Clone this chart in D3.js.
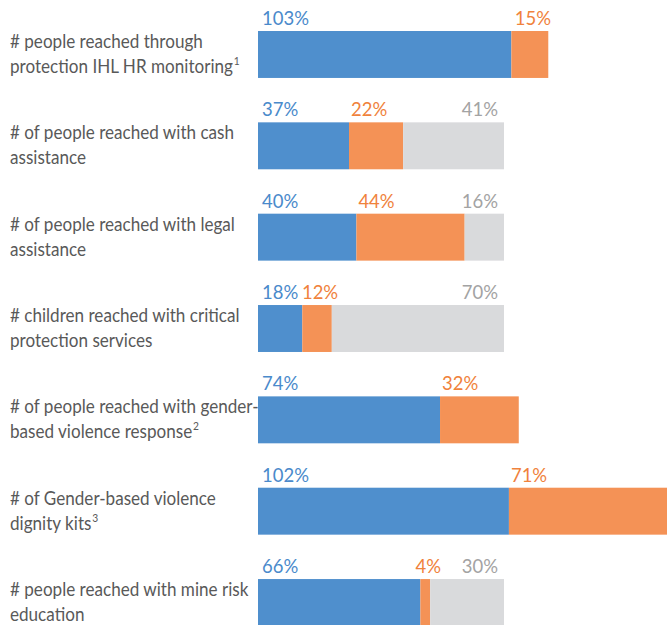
<!DOCTYPE html>
<html><head><meta charset="utf-8">
<script src="https://cdn.jsdelivr.net/npm/d3@7"></script>
<style>
html,body{margin:0;padding:0;background:#fff;}
svg{display:block;}
text{font-family:Lato,"Open Sans",sans-serif;}
</style></head>
<body>
<svg id="chart" width="667" height="625"></svg>
<script>
const categoryLines = [
  ["# people reached through", "protection IHL HR monitoring"],
  ["# of people reached with cash", "assistance"],
  ["# of people reached with legal", "assistance"],
  ["# children reached with critical", "protection services"],
  ["# of people reached with gender-", "based violence response"],
  ["# of Gender-based violence", "dignity kits"],
  ["# people reached with mine risk", "education"]
];
const footnotes = ["1", "", "", "", "2", "3", ""];
const blueValues = [103, 37, 40, 18, 74, 102, 66];
const orangeValues = [15, 22, 44, 12, 32, 71, 4];
const grayValues = [0, 41, 16, 70, 0, 0, 30];

const colors = {blue: "#4f8fcd", orange: "#f49256", gray: "#d9dadc"};
const labelColors = {blue: "#4a8acb", orange: "#f0823c", gray: "#a3a3a3"};

const svg = d3.select("#chart");
const ids = categoryLines.map((d, i) => "c" + i);
const x = d3.scaleLinear().domain([0, 100]).range([258, 504]);
const y = d3.scaleBand().domain(ids).range([31, 626]).paddingInner(0.486).paddingOuter(0);

// measure helper for condensed look
function measure(str, size) {
  const t = svg.append("text").attr("font-size", size).text(str);
  const w = t.node().getComputedTextLength();
  t.remove();
  return w;
}
const catSize = 20, valSize = 19;
const catScale = 193 / measure(categoryLines[0][0], catSize);
const valScale = 47 / measure("103%", valSize);

const rows = ids.map((id, i) => ({
  id, i,
  segs: [
    {key: "blue", v0: 0, v1: blueValues[i], val: blueValues[i]},
    {key: "orange", v0: blueValues[i], v1: blueValues[i] + orangeValues[i], val: orangeValues[i]},
    {key: "gray", v0: blueValues[i] + orangeValues[i], v1: blueValues[i] + orangeValues[i] + grayValues[i], val: grayValues[i]}
  ].filter(s => s.val > 0)
}));

const g = svg.selectAll("g.row").data(rows).join("g").attr("class", "row");

g.selectAll("rect").data(d => d.segs.map(s => ({...s, id: d.id}))).join("rect")
  .attr("x", s => x(s.v0))
  .attr("width", s => x(s.v1) - x(s.v0))
  .attr("y", s => y(s.id))
  .attr("height", y.bandwidth())
  .attr("fill", s => colors[s.key]);

g.selectAll("text.val").data(d => d.segs.map(s => ({...s, id: d.id}))).join("text")
  .attr("class", "val")
  .attr("font-size", valSize)
  .attr("fill", s => labelColors[s.key])
  .text(s => s.val + "%")
  .each(function(s) {
    const t = d3.select(this);
    const w = this.getComputedTextLength() * valScale;
    const segW = x(s.v1) - x(s.v0);
    let px, anchor = "start";
    if (s.key === "blue") px = x(s.v0) + 4;
    else if (s.key === "gray") { px = x(s.v1) - 6; anchor = "end"; }
    else if (segW < w + 4) { px = (x(s.v0) + x(s.v1)) / 2 + 3; anchor = "middle"; }
    else px = x(s.v0) + 2;
    t.attr("text-anchor", anchor)
     .attr("transform", `translate(${px},${y(s.id) - 6}) scale(${valScale},1)`);
  });

g.append("text")
  .attr("font-size", catSize)
  .attr("fill", "#595959")
  .each(function(d) {
    const t = d3.select(this);
    const cy = y(d.id) + y.bandwidth() / 2;
    t.attr("transform", `translate(10,${cy}) scale(${catScale},1)`);
    const lines = categoryLines[d.i];
    lines.forEach((line, k) => {
      t.append("tspan").attr("x", 0).attr("y", -6.5 + k * 25).text(line);
    });
    if (footnotes[d.i]) {
      t.append("tspan").attr("font-size", 12).attr("dy", -8).attr("dx", 1).text(footnotes[d.i]);
    }
  });
</script>
</body></html>
